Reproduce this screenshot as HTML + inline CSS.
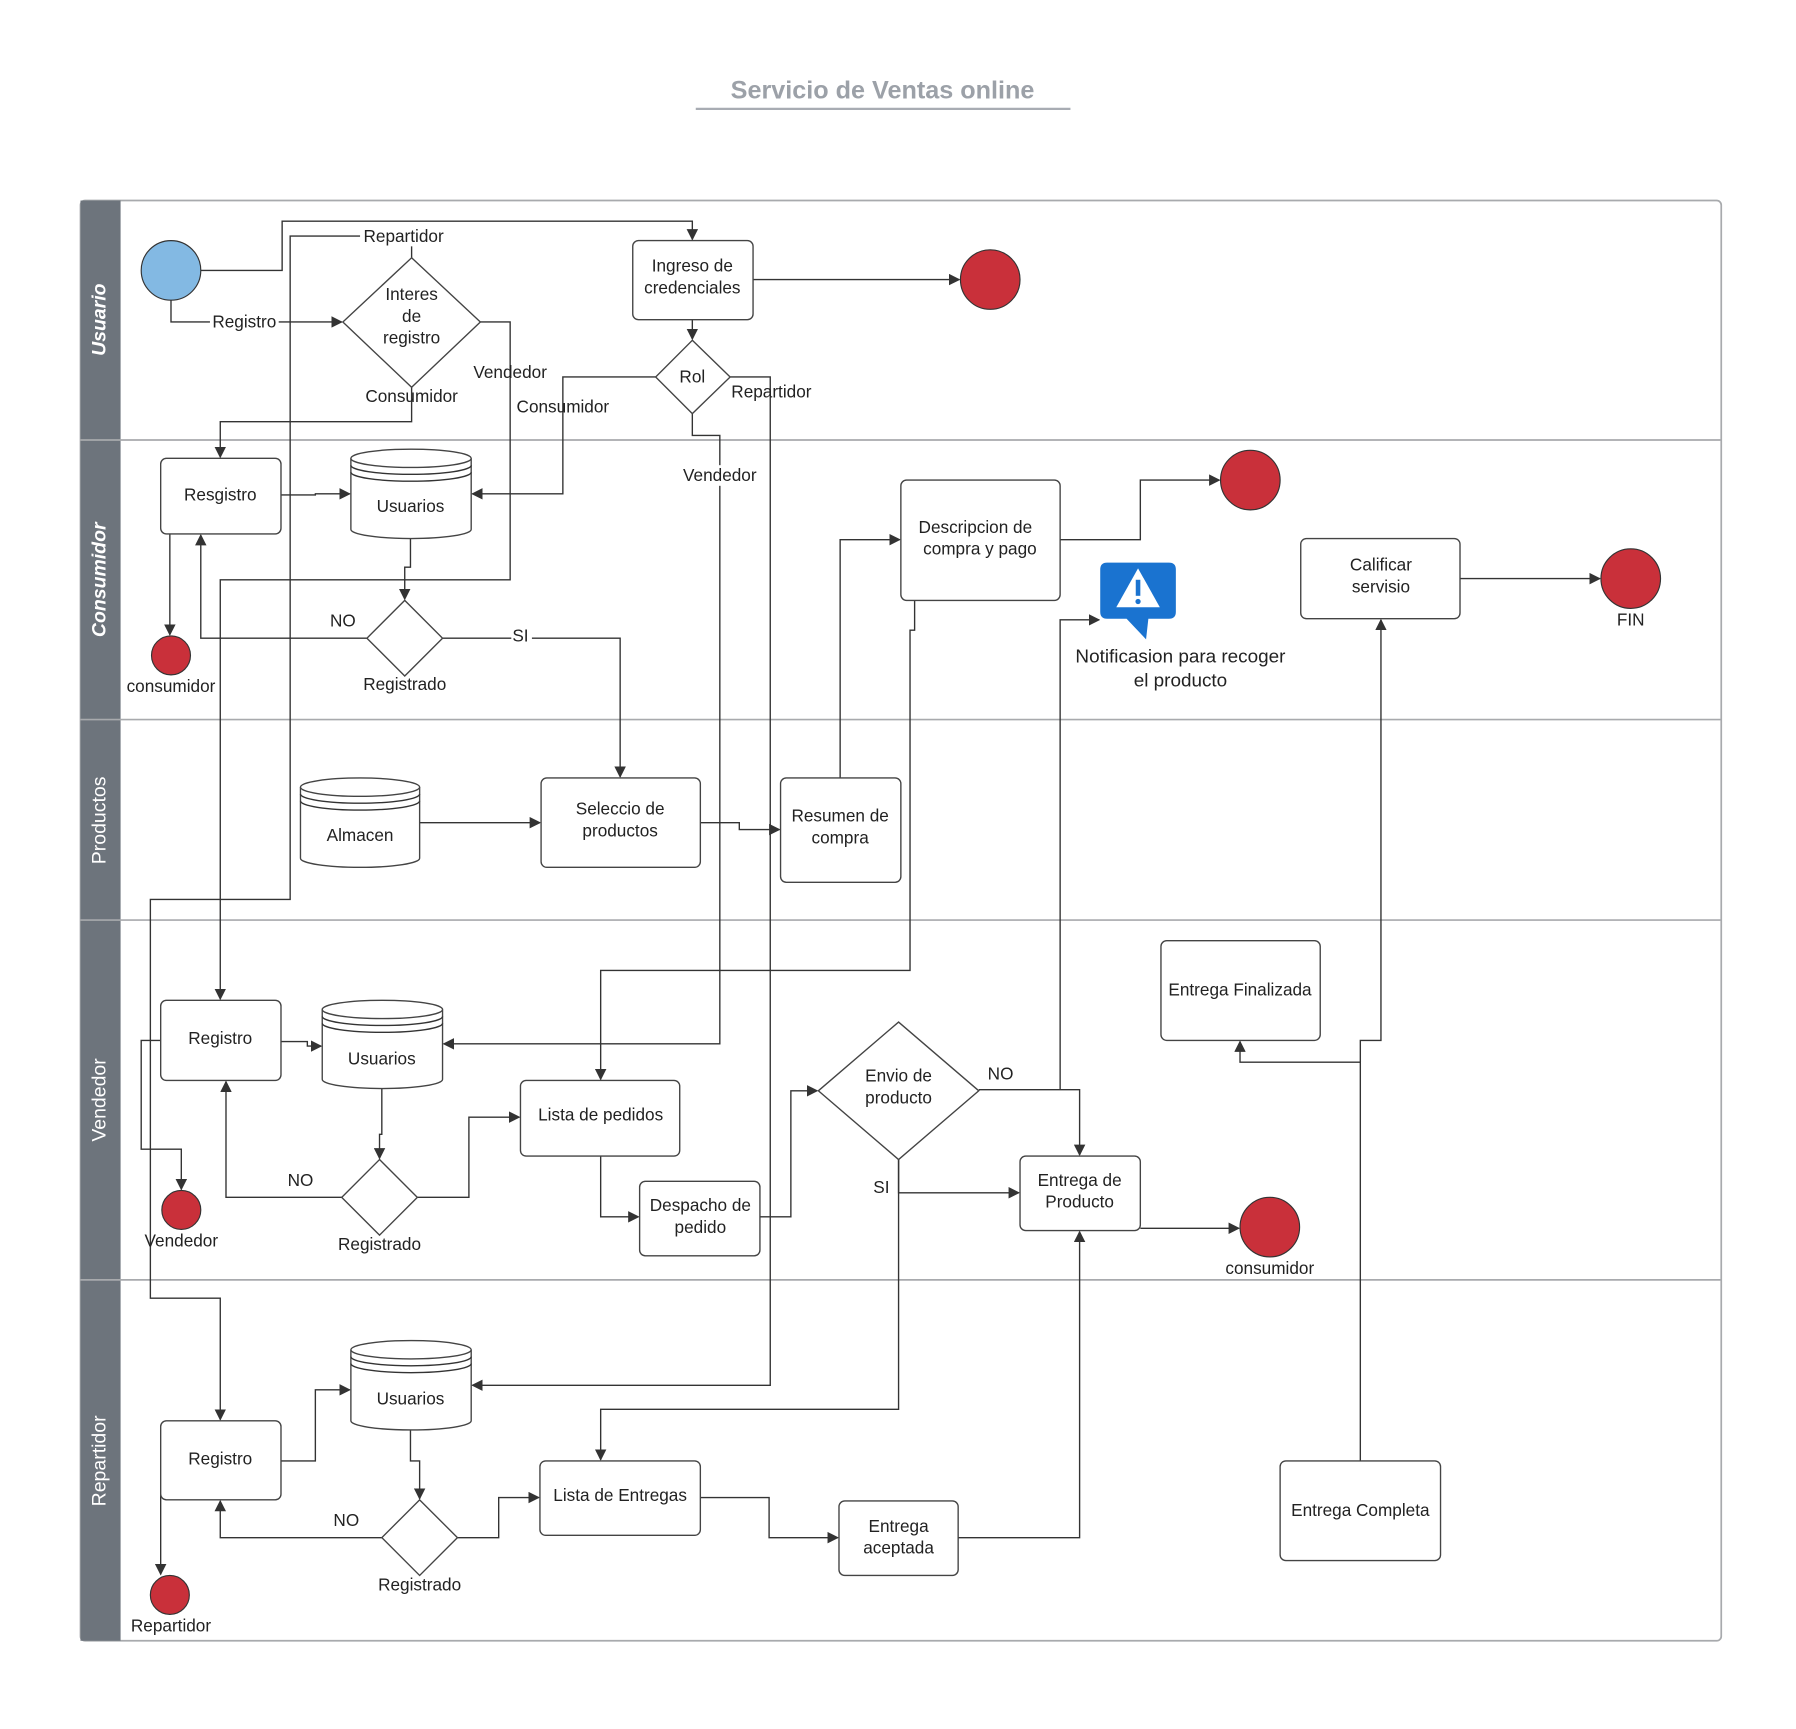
<!DOCTYPE html>
<html><head><meta charset="utf-8"><style>
html,body{margin:0;padding:0;background:#fff}
svg{display:block}
text{font-family:"Liberation Sans",sans-serif;font-size:15px;fill:#222}
.n{fill:#fff;stroke:#444;stroke-width:1.2}
.c{fill:none;stroke:#333;stroke-width:1.2}
.red{fill:#c9303a;stroke:#333;stroke-width:1}
.lane{fill:none;stroke:#a8aaad;stroke-width:1.5}
.lt{fill:#fff;font-size:17px}
</style></head><body>
<svg width="1796" height="1729" viewBox="0 0 1567 1509" xmlns="http://www.w3.org/2000/svg">
<defs><marker id="a" markerWidth="10" markerHeight="10" refX="9" refY="5" orient="auto" markerUnits="userSpaceOnUse"><path d="M0,0 L10,5 L0,10 z" fill="#333"/></marker></defs>
<text x="770" y="86" text-anchor="middle" style="font-size:22px;font-weight:bold;fill:#9ca1a8">Servicio de Ventas online</text>
<line x1="607" y1="95" x2="934" y2="95" stroke="#a8acb3" stroke-width="2"/>
<rect x="70" y="175" width="1432" height="1257" rx="4" class="lane"/>
<rect x="70" y="175" width="35" height="1257" fill="#6d747c"/>
<g stroke="#a8aaad" stroke-width="1.5"><line x1="70" y1="384" x2="1502" y2="384"/><line x1="70" y1="628" x2="1502" y2="628"/><line x1="70" y1="803" x2="1502" y2="803"/><line x1="70" y1="1117" x2="1502" y2="1117"/></g>
<text class="lt" transform="translate(92,279) rotate(-90)" text-anchor="middle" style="font-weight:bold;font-style:italic">Usuario</text>
<text class="lt" transform="translate(92,506) rotate(-90)" text-anchor="middle" style="font-weight:bold;font-style:italic">Consumidor</text>
<text class="lt" transform="translate(92,716) rotate(-90)" text-anchor="middle">Productos</text>
<text class="lt" transform="translate(92,960) rotate(-90)" text-anchor="middle">Vendedor</text>
<text class="lt" transform="translate(92,1275) rotate(-90)" text-anchor="middle">Repartidor</text>

<g class="c">
<path d="M175,236 H246 V193 H604 V209" marker-end="url(#a)"/>
<path d="M149,262 V281 H298" marker-end="url(#a)"/>
<path d="M359,225 V206 H253 V785 H131 V1133 H192 V1239" marker-end="url(#a)"/>
<path d="M359,338 V368 H192 V399" marker-end="url(#a)"/>
<path d="M419,281 H445 V506 H192 V872" marker-end="url(#a)"/>
<path d="M657,244 H837" marker-end="url(#a)"/>
<path d="M604,279 V296" marker-end="url(#a)"/>
<path d="M572,329 H491 V431 H412" marker-end="url(#a)"/>
<path d="M637,329 H672 V1209 H412" marker-end="url(#a)"/>
<path d="M604,361 V380 H628 V911 H387" marker-end="url(#a)"/>
<path d="M245,432 H275 V431 H305" marker-end="url(#a)"/>
<path d="M148,432 V554" marker-end="url(#a)"/>
<path d="M358,470 V495 H353 V523" marker-end="url(#a)"/>
<path d="M320,557 H175 V467" marker-end="url(#a)"/>
<path d="M386,557 H541 V678" marker-end="url(#a)"/>
<path d="M366,718 H471" marker-end="url(#a)"/>
<path d="M611,718 H645 V724 H680" marker-end="url(#a)"/>
<path d="M733,679 V471 H785" marker-end="url(#a)"/>
<path d="M925,471 H995 V419 H1064" marker-end="url(#a)"/>
<path d="M798,524 V550 H794 V847 H524 V942" marker-end="url(#a)"/>
<path d="M1274,505 H1396" marker-end="url(#a)"/>
<path d="M245,909 H268 V913 H280" marker-end="url(#a)"/>
<path d="M140,908 H123 V1003 H158 V1038" marker-end="url(#a)"/>
<path d="M333,950 V990 H331 V1011" marker-end="url(#a)"/>
<path d="M298,1045 H197 V944" marker-end="url(#a)"/>
<path d="M364,1045 H409 V975 H453" marker-end="url(#a)"/>
<path d="M524,1009 V1062 H557" marker-end="url(#a)"/>
<path d="M663,1062 H690 V952 H713" marker-end="url(#a)"/>
<path d="M854,951 H942 V1008" marker-end="url(#a)"/>
<path d="M925,951 V541 H959" marker-end="url(#a)"/>
<path d="M784,1012 V1041 H889" marker-end="url(#a)"/>
<path d="M784,1012 V1230 H524 V1274" marker-end="url(#a)"/>
<path d="M995,1072 H1081" marker-end="url(#a)"/>
<path d="M1187,1275 V927 H1082 V909" marker-end="url(#a)"/>
<path d="M1187,927 V908 H1205 V541" marker-end="url(#a)"/>
<path d="M245,1275 H275 V1213 H305" marker-end="url(#a)"/>
<path d="M358,1248 V1275 H366 V1308" marker-end="url(#a)"/>
<path d="M333,1342 H192 V1310" marker-end="url(#a)"/>
<path d="M399,1342 H435 V1307 H470" marker-end="url(#a)"/>
<path d="M611,1307 H671 V1342 H731" marker-end="url(#a)"/>
<path d="M836,1342 H942 V1075" marker-end="url(#a)"/>
<path d="M140,1275 V1374" marker-end="url(#a)"/>
</g>

<g text-anchor="middle">
<rect x="183" y="272" width="60" height="18" fill="#fff"/><text x="213" y="286">Registro</text>
<rect x="314" y="197" width="76" height="18" fill="#fff"/><text x="352" y="211">Repartidor</text>
<text x="359" y="351">Consumidor</text>
<text x="445" y="330">Vendedor</text>
<text x="491" y="360">Consumidor</text>
<text x="673" y="347">Repartidor</text>
<rect x="594" y="406" width="70" height="18" fill="#fff"/><text x="628" y="420">Vendedor</text>
<text x="299" y="547">NO</text>
<rect x="446" y="547" width="18" height="16" fill="#fff"/><text x="454" y="560">SI</text>
<text x="262" y="1035">NO</text>
<text x="873" y="942">NO</text>
<text x="769" y="1041">SI</text>
<text x="302" y="1332">NO</text>
</g>

<circle cx="149" cy="236" r="26" fill="#83b9e3" stroke="#333"/>
<polygon points="359,225 419,281 359,338 299,281" class="n"/>
<g text-anchor="middle"><text x="359" y="262">Interes</text><text x="359" y="281">de</text><text x="359" y="300">registro</text></g>
<rect x="552" y="210" width="105" height="69" rx="5" class="n"/>
<g text-anchor="middle"><text x="604" y="237">Ingreso de</text><text x="604" y="256">credenciales</text></g>
<circle cx="864" cy="244" r="26" class="red"/>
<polygon points="604,297 637,329 604,361 572,329" class="n"/>
<text x="604" y="334" text-anchor="middle">Rol</text>

<rect x="140" y="400" width="105" height="66" rx="5" class="n"/>
<text x="192" y="437" text-anchor="middle">Resgistro</text>
<path d="M306,400 V462 A52.5,8 0 0 0 411,462 V400" class="n"/><ellipse cx="358.5" cy="400" rx="52.5" ry="8" class="n"/><path d="M306,406 A52.5,8 0 0 0 411,406 M306,412 A52.5,8 0 0 0 411,412" class="c"/>
<text x="358" y="447" text-anchor="middle">Usuarios</text>
<circle cx="149" cy="572" r="17" class="red"/>
<text x="149" y="604" text-anchor="middle">consumidor</text>
<polygon points="353,524 386,557 353,590 320,557" class="n"/>
<text x="353" y="602" text-anchor="middle">Registrado</text>
<rect x="786" y="419" width="139" height="105" rx="5" class="n"/>
<g text-anchor="middle"><text x="851" y="465">Descripcion de</text><text x="855" y="484">compra y pago</text></g>
<circle cx="1091" cy="419" r="26" class="red"/>
<path d="M966,491 H1020 Q1026,491 1026,497 V534 Q1026,540 1020,540 H1002 L1000,558 L983,540 H966 Q960,540 960,534 V497 Q960,491 966,491 Z" fill="#1a73d0"/>
<path d="M993,496 L1012,530 H974 Z" fill="#fff"/>
<rect x="991" y="506" width="4" height="14" fill="#1a73d0"/><circle cx="993" cy="525" r="2.3" fill="#1a73d0"/>
<g text-anchor="middle"><text x="1030" y="578" style="font-size:16.5px">Notificasion para recoger</text><text x="1030" y="599" style="font-size:16.5px">el producto</text></g>
<rect x="1135" y="470" width="139" height="70" rx="5" class="n"/>
<g text-anchor="middle"><text x="1205" y="498">Calificar</text><text x="1205" y="517">servisio</text></g>
<circle cx="1423" cy="505" r="26" class="red"/>
<text x="1423" y="546" text-anchor="middle">FIN</text>

<path d="M262,687 V749 A52,8 0 0 0 366,749 V687" class="n"/><ellipse cx="314" cy="687" rx="52" ry="8" class="n"/><path d="M262,693 A52,8 0 0 0 366,693 M262,699 A52,8 0 0 0 366,699" class="c"/>
<text x="314" y="734" text-anchor="middle">Almacen</text>
<rect x="472" y="679" width="139" height="78" rx="5" class="n"/>
<g text-anchor="middle"><text x="541" y="711">Seleccio de</text><text x="541" y="730">productos</text></g>
<rect x="681" y="679" width="105" height="91" rx="5" class="n"/>
<g text-anchor="middle"><text x="733" y="717">Resumen de</text><text x="733" y="736">compra</text></g>

<rect x="140" y="873" width="105" height="70" rx="5" class="n"/>
<text x="192" y="911" text-anchor="middle">Registro</text>
<path d="M281,881 V942 A52.5,8 0 0 0 386,942 V881" class="n"/><ellipse cx="333.5" cy="881" rx="52.5" ry="8" class="n"/><path d="M281,887 A52.5,8 0 0 0 386,887 M281,893 A52.5,8 0 0 0 386,893" class="c"/>
<text x="333" y="929" text-anchor="middle">Usuarios</text>
<polygon points="331,1012 364,1045 331,1078 298,1045" class="n"/>
<text x="331" y="1091" text-anchor="middle">Registrado</text>
<circle cx="158" cy="1056" r="17" class="red"/>
<text x="158" y="1088" text-anchor="middle">Vendedor</text>
<rect x="454" y="943" width="139" height="66" rx="5" class="n"/>
<text x="524" y="978" text-anchor="middle">Lista de pedidos</text>
<rect x="558" y="1031" width="105" height="65" rx="5" class="n"/>
<g text-anchor="middle"><text x="611" y="1057">Despacho de</text><text x="611" y="1076">pedido</text></g>
<polygon points="784,892 854,952 784,1012 714,952" class="n"/>
<g text-anchor="middle"><text x="784" y="944">Envio de</text><text x="784" y="963">producto</text></g>
<rect x="890" y="1009" width="105" height="65" rx="5" class="n"/>
<g text-anchor="middle"><text x="942" y="1035">Entrega de</text><text x="942" y="1054">Producto</text></g>
<circle cx="1108" cy="1071" r="26" class="red"/>
<text x="1108" y="1112" text-anchor="middle">consumidor</text>
<rect x="1013" y="821" width="139" height="87" rx="5" class="n"/>
<text x="1082" y="869" text-anchor="middle">Entrega Finalizada</text>

<path d="M306,1178 V1240 A52.5,8 0 0 0 411,1240 V1178" class="n"/><ellipse cx="358.5" cy="1178" rx="52.5" ry="8" class="n"/><path d="M306,1184 A52.5,8 0 0 0 411,1184 M306,1190 A52.5,8 0 0 0 411,1190" class="c"/>
<text x="358" y="1226" text-anchor="middle">Usuarios</text>
<rect x="140" y="1240" width="105" height="69" rx="5" class="n"/>
<text x="192" y="1278" text-anchor="middle">Registro</text>
<polygon points="366,1309 399,1342 366,1375 333,1342" class="n"/>
<text x="366" y="1388" text-anchor="middle">Registrado</text>
<circle cx="148" cy="1392" r="17" class="red"/>
<text x="149" y="1424" text-anchor="middle">Repartidor</text>
<rect x="471" y="1275" width="140" height="65" rx="5" class="n"/>
<text x="541" y="1310" text-anchor="middle">Lista de Entregas</text>
<rect x="732" y="1310" width="104" height="65" rx="5" class="n"/>
<g text-anchor="middle"><text x="784" y="1337">Entrega</text><text x="784" y="1356">aceptada</text></g>
<rect x="1117" y="1275" width="140" height="87" rx="5" class="n"/>
<text x="1187" y="1323" text-anchor="middle">Entrega Completa</text>
</svg>
</body></html>
